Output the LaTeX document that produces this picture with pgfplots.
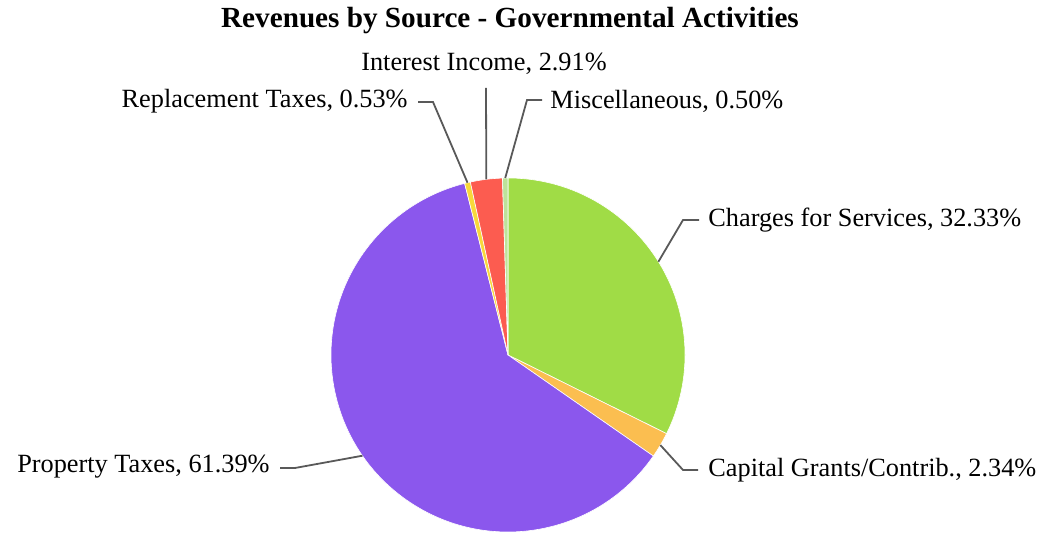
\documentclass[border=0pt]{standalone}
\usepackage{pgfplots}
\pgfplotsset{compat=1.18}
\usepackage{pgfplotstable}
\usepackage{fontspec}
\setmainfont{Liberation Serif}

\definecolor{cCharges}{HTML}{A0DC46}
\definecolor{cCapital}{HTML}{FBBE50}
\definecolor{cProperty}{HTML}{8B57ED}
\definecolor{cReplace}{HTML}{F8D83A}
\definecolor{cInterest}{HTML}{FC5C50}
\definecolor{cMisc}{HTML}{BDE39A}
\definecolor{leader}{HTML}{595959}
\tikzset{lbl/.style={font=\fontsize{13.15}{16}\selectfont, inner sep=0pt}}

% share of revenue (%), slice colour, leader knee (kx,ky) and leader end x
\pgfplotstableread{
name        value  col        kx   ky   ex
Charges     32.33  cCharges   683  313  699
Capital      2.34  cCapital   683   63  698
Property    61.39  cProperty  295   65  280
Replacement  0.53  cReplace   433  431  418
Interest     2.91  cInterest  486  445  486
Misc         0.50  cMisc      527  433  542
}\revenue

\begin{document}
\begin{tikzpicture}
\begin{axis}[
    x=0.5pt, y=0.5pt,
    xmin=0, xmax=1043, ymin=0, ymax=533,
    enlargelimits=false,
    hide axis, clip=false,
    disabledatascaling,
]
\pgfplotsextra{%
  \gdef\angstart{90}%
  \foreach \i in {0,...,5}{%
    \pgfplotstablegetelem{\i}{value}\of\revenue \let\val\pgfplotsretval
    \pgfplotstablegetelem{\i}{col}\of\revenue \let\col\pgfplotsretval
    \pgfplotstablegetelem{\i}{kx}\of\revenue \let\kx\pgfplotsretval
    \pgfplotstablegetelem{\i}{ky}\of\revenue \let\ky\pgfplotsretval
    \pgfplotstablegetelem{\i}{ex}\of\revenue \let\ex\pgfplotsretval
    \pgfmathsetmacro\angend{\angstart-3.6*\val}%
    \pgfmathsetmacro\angmid{(\angstart+\angend)/2}%
    \filldraw[fill=\col, draw=white, line width=0.3pt]
      (axis cs:508,178) -- ++(\angstart:88.5pt)
      arc[start angle=\angstart, end angle=\angend, radius=88.5pt] -- cycle;
    \draw[leader, line width=0.9pt]
      ([shift={(\angmid:88.5pt)}]axis cs:508,178) -- (axis cs:\kx,\ky) -- (axis cs:\ex,\ky);
    \xdef\angstart{\angend}%
  }%
}
\node[lbl, anchor=west] at (axis cs:708,313) {Charges for Services, 32.33\%};
\node[lbl, anchor=west] at (axis cs:708,63) {Capital Grants/Contrib., 2.34\%};
\node[lbl, anchor=east] at (axis cs:270,66) {Property Taxes, 61.39\%};
\node[lbl, anchor=east] at (axis cs:408,432) {Replacement Taxes, 0.53\%};
\node[lbl, anchor=west] at (axis cs:550,432) {Miscellaneous, 0.50\%};
\node[lbl] at (axis cs:484,469) {Interest Income, 2.91\%};
\node[font=\fontsize{14.6}{17}\selectfont\bfseries, inner sep=0pt] at (axis cs:510,512)
  {Revenues by Source - Governmental Activities};
\end{axis}
\pgfresetboundingbox
\path (current axis.south west) rectangle (current axis.north east);
\end{tikzpicture}
\end{document}
